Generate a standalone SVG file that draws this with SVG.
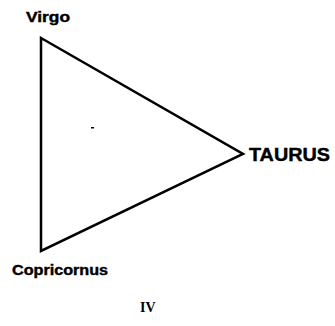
<svg xmlns="http://www.w3.org/2000/svg" width="335" height="326" viewBox="0 0 335 326">
<style>
.lbl{font-family:"Liberation Sans",Arial,sans-serif;font-weight:bold;fill:#000;stroke:#000;stroke-width:0.4}
.edge{stroke:#000;stroke-width:2.5;fill:none;stroke-linejoin:miter}
</style>
<rect width="335" height="326" fill="#fff"/>
<g id="connectors">
<polygon class="edge" points="41,38 243,154 41,251"/>
</g>
<g id="virgo"><text class="lbl" x="26" y="22" font-size="14" textLength="44" lengthAdjust="spacingAndGlyphs">Virgo</text></g>
<g id="taurus"><text class="lbl" x="249" y="161" font-size="18" textLength="81" lengthAdjust="spacingAndGlyphs">TAURUS</text></g>
<g id="capricornus"><text class="lbl" x="12" y="275" font-size="14" textLength="96" lengthAdjust="spacingAndGlyphs">Copricornus</text></g>
<g id="label-iv"><text x="140" y="312" font-family="Liberation Serif,serif" font-weight="bold" font-size="14">IV</text></g>
<rect x="91" y="127" width="3" height="1.5" fill="#000"/>
</svg>
